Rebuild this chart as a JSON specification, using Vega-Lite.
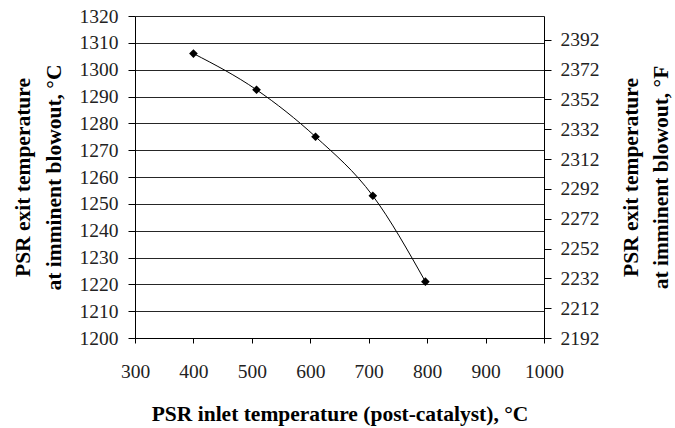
{
  "$schema": "https://vega.github.io/schema/vega-lite/v6.json",
  "width": 409,
  "height": 322,
  "autosize": {"type": "none"},
  "padding": {"left": 135, "top": 16, "right": 131, "bottom": 90},
  "background": "white",
  "config": {
    "view": {"stroke": null},
    "font": "Liberation Serif",
    "axis": {
      "labelFont": "Liberation Serif",
      "titleFont": "Liberation Serif",
      "labelFontSize": 19.5,
      "titleFontSize": 21.5,
      "titleFontWeight": "bold",
      "labelColor": "#222",
      "titleColor": "#000",
      "domainColor": "#000",
      "tickColor": "#000",
      "domainWidth": 1,
      "tickWidth": 1,
      "labelFlush": false,
      "labelOverlap": false,
      "format": "d"
    }
  },
  "data": {
    "values": [
      {"inlet": 400, "exitC": 1306, "exitF": 2382.8},
      {"inlet": 508, "exitC": 1292.5, "exitF": 2358.5},
      {"inlet": 609, "exitC": 1275, "exitF": 2327},
      {"inlet": 707, "exitC": 1253, "exitF": 2287.4},
      {"inlet": 797, "exitC": 1221, "exitF": 2229.8}
    ]
  },
  "encoding": {
    "x": {
      "field": "inlet",
      "type": "quantitative",
      "scale": {"domain": [300, 1000], "nice": false, "zero": false},
      "axis": {
        "values": [300, 400, 500, 600, 700, 800, 900, 1000],
        "grid": false,
        "tickSize": 5,
        "labelPadding": 19,
        "title": "PSR inlet temperature (post-catalyst), °C",
        "titlePadding": 23
      }
    }
  },
  "layer": [
    {
      "encoding": {
        "y": {
          "field": "exitC",
          "type": "quantitative",
          "scale": {"domain": [1200, 1320], "nice": false, "zero": false},
          "axis": {
            "orient": "left",
            "values": [1200, 1210, 1220, 1230, 1240, 1250, 1260, 1270, 1280, 1290, 1300, 1310, 1320],
            "grid": true,
            "gridColor": "#000",
            "gridOpacity": 0.85,
            "tickSize": 7,
            "labelPadding": 10,
            "title": ["PSR exit temperature", "at imminent blowout, °C"],
            "titlePadding": 14,
            "titleLineHeight": 31
          }
        }
      },
      "layer": [
        {
          "mark": {"type": "line", "color": "#000", "strokeWidth": 1, "interpolate": "monotone"}
        },
        {
          "mark": {"type": "point", "shape": "diamond", "filled": true, "color": "#000", "size": 75, "opacity": 1}
        }
      ]
    },
    {
      "mark": {"type": "point", "opacity": 0},
      "encoding": {
        "y": {
          "field": "exitF",
          "type": "quantitative",
          "scale": {"domain": [2192, 2408], "nice": false, "zero": false},
          "axis": {
            "orient": "right",
            "values": [2192, 2212, 2232, 2252, 2272, 2292, 2312, 2332, 2352, 2372, 2392],
            "grid": false,
            "tickSize": 7,
            "labelPadding": 9,
            "title": ["PSR exit temperature", "at imminent blowout, °F"],
            "titleAngle": 270,
            "titlePadding": 13,
            "titleLineHeight": 30
          }
        }
      }
    }
  ],
  "resolve": {"scale": {"y": "independent"}}
}
